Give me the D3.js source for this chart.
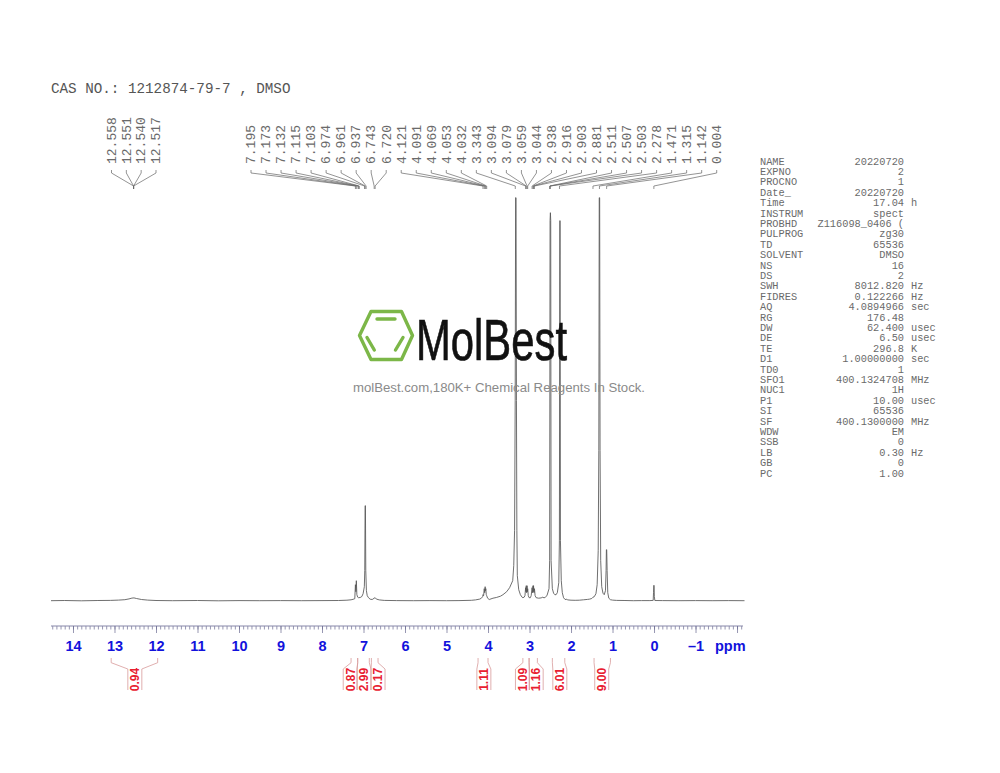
<!DOCTYPE html>
<html><head><meta charset="utf-8">
<style>html,body{margin:0;padding:0;background:#fff}svg{display:block}</style>
<script src="https://cdn.jsdelivr.net/npm/d3@7"></script></head>
<body><svg id="c" width="1000" height="773"></svg>
<script>
const title = "CAS NO.: 1212874-79-7 , DMSO";
const specPpm = [14.53,14.2,13.8,13.4,13.1,12.9,12.75,12.65,12.58,12.53,12.47,12.35,12.2,12,11.6,11,10.5,10,9.5,9,8.5,8,7.6,7.4,7.3,7.25,7.21,7.195,7.184,7.173,7.16,7.14,7.12,7.08,7.04,7.01,6.98,6.97,6.961,6.954,6.945,6.93,6.91,6.88,6.84,6.79,6.743,6.72,6.69,6.62,6.5,6.2,5.8,5.4,5,4.7,4.4,4.3,4.2,4.16,4.13,4.121,4.106,4.091,4.08,4.069,4.06,4.053,4.042,4.032,4.01,3.97,3.88,3.8,3.7,3.64,3.55,3.48,3.405,3.38,3.36,3.345,3.335,3.325,3.315,3.305,3.294,3.26,3.22,3.18,3.16,3.13,3.11,3.094,3.087,3.079,3.07,3.059,3.05,3.044,3.03,3.01,2.98,2.96,2.938,2.928,2.916,2.909,2.903,2.892,2.881,2.865,2.84,2.78,2.72,2.68,2.65,2.62,2.58,2.53,2.515,2.505,2.497,2.489,2.48,2.45,2.42,2.39,2.36,2.33,2.295,2.28,2.27,2.263,2.255,2.235,2.21,2.18,2.15,2.12,2.1,2.08,2,1.9,1.8,1.7,1.6,1.55,1.5,1.471,1.44,1.4,1.37,1.345,1.33,1.32,1.31,1.3,1.285,1.26,1.23,1.2,1.17,1.155,1.148,1.14,1.13,1.115,1.09,1.05,1,0.9,0.7,0.5,0.3,0.1,0.02,0.012,0.006,0.004,-0.002,-0.008,-0.02,-0.2,-0.6,-1,-1.4,-1.8,-2.18];
const specInt = [0,0.2,-0.1,0.2,0.3,0.6,1,1.8,2.6,2.8,2.2,1.2,0.6,0.2,0,0.2,-0.1,0.1,0,0.1,0,0.1,0.2,0.5,0.9,1.4,2,16,9,20,6,3.5,3,3.2,4.2,7,14,30,95,95,30,10,5,3,1.5,1.2,2.5,3,1.6,0.8,0.3,0.1,0,0.1,0,0.1,0.4,0.8,1.6,2.5,4,6,5,12,8,14,10,12,6,5,2.5,1.2,2.5,3.2,4.5,6,9,13,20,35,70,200,403,403,200,70,25,11,6,3.5,3,3.5,5,13,9,15,8,15,9,12,5,3,3,5,13,8,15,9,15,8,12,5,3,2.5,2.8,3.5,2.8,3.5,5,12,40,380,388,380,40,12,7.5,6,6,8,18,60,380,380,60,20,8,3,1.5,1,1.6,0.8,0.5,0.4,0.5,0.9,1.3,1.6,2.2,3.5,4,7,16,50,150,403,403,150,40,14,7.5,6,10,30,51,51,30,8,2.5,1,0.6,0.3,0.2,0,0.1,0.1,0.3,8,15,15.5,15,4,0.2,0.1,0,0.1,0,0.1,0];
const labelsA = ["12.558","12.551","12.540","12.517"];
const labelsB = ["7.195","7.173","7.132","7.115","7.103","6.974","6.961","6.937","6.743","6.720","4.121","4.091","4.069","4.053","4.032","3.343","3.094","3.079","3.059","3.044","2.938","2.916","2.903","2.881","2.511","2.507","2.503","2.278","1.471","1.315","1.142","0.004"];
const axisMajor = [14,13,12,11,10,9,8,7,6,5,4,3,2,1,0,-1,-2];
const axisMinor = [];
for (let k = 145; k >= -21; k--) axisMinor.push(k / 10);
const intFrom = [13.08,7.30,7.14,6.81,4.24,3.16,3.01,2.45,1.445];
const intTo = [11.96,7.14,6.86,6.65,4.00,3.01,2.81,2.15,1.05];
const intCentre = [12.51,7.32,6.99,6.65,4.10,3.17,2.84,2.27,1.26];
const intText = ["0.94","0.87","2.99","0.17","1.11","1.09","1.16","6.01","9.00"];
const paramNames = ["NAME","EXPNO","PROCNO","Date_","Time","INSTRUM","PROBHD","PULPROG","TD","SOLVENT","NS","DS","SWH","FIDRES","AQ","RG","DW","DE","TE","D1","TD0","SFO1","NUC1","P1","SI","SF","WDW","SSB","LB","GB","PC"];
const paramValues = ["20220720","2","1","20220720","17.04","spect","Z116098_0406 (","zg30","65536","DMSO","16","2","8012.820","0.122266","4.0894966","176.48","62.400","6.50","296.8","1.00000000","1","400.1324708","1H","10.00","65536","400.1300000","EM","0","0.30","0","1.00"];
const paramUnits = ["","","","","h","","","","","","","","Hz","Hz","sec","","usec","usec","K","sec","","MHz","","usec","","MHz","","","Hz","",""];

const svg = d3.select("#c");
const mono = "'Liberation Mono', monospace", sans = "'Liberation Sans', Arial, sans-serif";
const x = d3.scaleLinear().domain([14.53,-2.18]).range([51,744.5]);
const y = d3.scaleLinear().domain([0,403]).range([600.7,197.7]);

svg.append("text").attr("x",51).attr("y",93).attr("font-family",mono).attr("font-size",14.25).attr("fill","#555").text(title);

// spectrum
svg.append("path").datum(specPpm.map((p,i)=>[p,specInt[i]]))
  .attr("d",d3.line().x(d=>x(d[0])).y(d=>y(d[1])))
  .attr("fill","none").attr("stroke","#555").attr("stroke-width",0.85);

// peak labels with connectors
const ia = d3.scaleLinear().domain([0,3]).range([111.5,156]);
const ib = d3.scaleLinear().domain([0,31]).range([251,716.7]);
const peaks = [...labelsA.map((t,i)=>({t,lx:ia(i),px:x(12.54)})),
               ...labelsB.map((t,i)=>({t,lx:ib(i),px:x(+t)}))];
const pk = svg.append("g");
pk.selectAll("text").data(peaks).join("text")
  .attr("transform",d=>`translate(${d.lx},164) rotate(-90)`)
  .attr("dy","0.33em").attr("font-family",mono).attr("font-size",13).attr("fill","#6a6a6a").text(d=>d.t);
pk.selectAll("path").data(peaks).join("path")
  .attr("d",d=>`M${d.lx},170V173L${d.px},186V189`)
  .attr("fill","none").attr("stroke","#666").attr("stroke-width",0.7);

// axis
const minorAxis = d3.axisBottom(x).tickValues(axisMinor).tickSize(3.5).tickFormat("");
const gMinor = svg.append("g").attr("transform","translate(0,626)").call(minorAxis);
const majorAxis = d3.axisBottom(x).tickValues(axisMajor).tickSize(7).tickFormat(d=>d<0?"\u2013"+(-d):d).tickPadding(7.5);
const gMajor = svg.append("g").attr("transform","translate(0,626)").call(majorAxis);
for (const g of [gMinor,gMajor]) {
  g.selectAll("line").attr("stroke","#6a6a90").attr("stroke-width",0.7);
  g.select(".domain").attr("stroke","#9a9ab4").attr("stroke-width",0.7).attr("d",`M${x(14.53)},0H743`);
}
gMajor.selectAll("text").attr("font-family",sans).attr("font-weight","bold").attr("font-size",14.5).attr("fill","#1212dc");
gMajor.selectAll(".tick").filter(d=>d===-2).select("text").remove();
svg.append("text").attr("x",715).attr("y",650.5).attr("font-family",sans).attr("font-weight","bold").attr("font-size",14.5).attr("fill","#1212dc").text("ppm");

// integrals
const ig = svg.append("g");
intText.forEach((t,i)=>{
  const c = x(intCentre[i]);
  const l = `M${x(intFrom[i])},658V662.7L${c-7},669V690`;
  const r = `M${x(intTo[i])},658V662.7L${c+7},669V690`;
  ig.append("path").attr("d",l+r).attr("fill","none").attr("stroke","#d89a9a").attr("stroke-width",0.8);
  ig.append("text").attr("transform",`translate(${c},679.5) rotate(-90)`).attr("text-anchor","middle").attr("dy","0.36em")
    .attr("font-family",sans).attr("font-weight","bold").attr("font-size",12).attr("fill","#e82030").text(t);
});

// parameter table
const pt = svg.append("g").attr("font-family",mono).attr("font-size",10.3).attr("fill","#6a6a6a");
const rowY = d3.scaleLinear().domain([0,30]).range([164.5,476.5]);
paramNames.forEach((n,i)=>{
  pt.append("text").attr("x",760).attr("y",rowY(i)).text(n);
  pt.append("text").attr("x",904).attr("y",rowY(i)).attr("text-anchor","end").text(paramValues[i]);
  if (paramUnits[i]) pt.append("text").attr("x",911).attr("y",rowY(i)).text(paramUnits[i]);
});

// logo
const logo = svg.append("g");
logo.append("path").attr("d","M359.5,335.5L371,311.5H401.5L412.5,335.5L401.5,359.5H371Z").attr("fill","none").attr("stroke","#7cb748").attr("stroke-width",3.4).attr("stroke-linejoin","round");
logo.append("path").attr("d","M377,319H395M367,337.5L374.3,350M403,337.5L395.5,350").attr("fill","none").attr("stroke","#7cb748").attr("stroke-width",3.4).attr("stroke-linecap","round");
logo.append("text").attr("x",416).attr("y",360).attr("font-family",sans).attr("font-size",58).attr("fill","#111").attr("stroke","#111").attr("stroke-width",0.7).attr("textLength",151).attr("lengthAdjust","spacingAndGlyphs").text("MolBest");
svg.append("text").attr("x",499).attr("y",392).attr("text-anchor","middle").attr("font-family",sans).attr("font-size",13.2).attr("fill","#8a8a8a").text("molBest.com,180K+ Chemical Reagents In Stock.");
</script></body></html>
